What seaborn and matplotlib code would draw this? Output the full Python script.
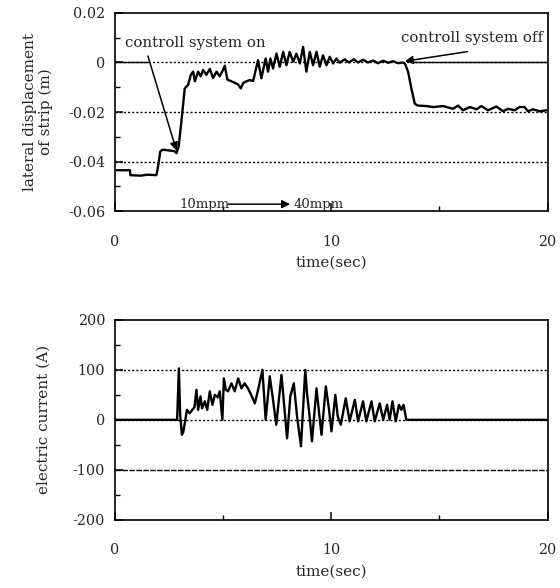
import matplotlib
matplotlib.use("Agg")
import matplotlib.pyplot as plt
import seaborn as sns
import pandas as pd

# lateral displacement of strip
time_disp = [0.1, 0.7, 0.72, 1.2, 1.5, 1.92, 2.0, 2.1, 2.2, 2.5, 2.75, 2.85, 2.95, 3.05, 3.16,
             3.23, 3.39, 3.51, 3.62, 3.7, 3.85, 3.97, 4.08, 4.23, 4.39, 4.54, 4.7, 4.85, 5.0,
             5.08, 5.2, 5.39, 5.54, 5.7, 5.82, 5.93, 6.08, 6.24, 6.39, 6.54, 6.62, 6.77, 6.97,
             7.08, 7.19, 7.31, 7.47, 7.62, 7.78, 7.93, 8.08, 8.24, 8.39, 8.55, 8.70, 8.85, 9.01,
             9.16, 9.32, 9.47, 9.62, 9.78, 9.93, 10.09, 10.24, 10.39, 10.62, 10.82, 11.04, 11.24,
             11.47, 11.70, 11.93, 12.16, 12.40, 12.63, 12.86, 13.09, 13.29, 13.40, 13.55, 13.70,
             13.86, 14.0, 14.4, 14.7, 15.17, 15.63, 15.86, 16.09, 16.4, 16.71, 16.94, 17.24,
             17.63, 17.94, 18.17, 18.47, 18.7, 18.93, 19.09, 19.32, 19.63, 19.94]
disp = [-0.0435, -0.0435, -0.0455, -0.0457, -0.0453, -0.0455, -0.042, -0.036, -0.0352, -0.0355,
        -0.0358, -0.0366, -0.034, -0.026, -0.0167, -0.0105, -0.009, -0.005, -0.0037, -0.0076,
        -0.0037, -0.0056, -0.003, -0.005, -0.0026, -0.0063, -0.0037, -0.0056, -0.003, -0.0013,
        -0.0069, -0.0076, -0.0082, -0.0089, -0.0105, -0.0083, -0.0076, -0.0071, -0.0075, -0.002,
        0.0009, -0.0064, 0.0016, -0.0037, 0.0016, -0.0024, 0.0036, -0.0017, 0.0043, -0.0011,
        0.0043, 0.0003, 0.0036, -0.0004, 0.0063, -0.0037, 0.0043, -0.0011, 0.0043, -0.0017,
        0.0029, -0.0011, 0.0023, -0.0004, 0.0016, -0.0001, 0.0013, 0.0, 0.0013, 0.0, 0.0011,
        0.0, 0.0008, -0.0003, 0.0007, -0.0001, 0.0005, -0.0003, 0.0, -0.0004, -0.0037, -0.0104,
        -0.0167, -0.0174, -0.0176, -0.018, -0.0176, -0.0187, -0.0174, -0.0193, -0.018, -0.0189,
        -0.0176, -0.0193, -0.0178, -0.0197, -0.0187, -0.0193, -0.018, -0.018, -0.0197, -0.0189,
        -0.0197, -0.0193]

# electric current
time_cur = [0.0, 2.88, 2.96, 3.02, 3.1, 3.16, 3.26, 3.33, 3.46, 3.58, 3.68, 3.77, 3.85, 3.96,
            4.03, 4.16, 4.27, 4.39, 4.51, 4.62, 4.75, 4.85, 4.97, 5.04, 5.13, 5.23, 5.39, 5.54,
            5.70, 5.85, 6.0, 6.15, 6.3, 6.47, 6.62, 6.82, 6.97, 7.16, 7.31, 7.46, 7.7, 7.96,
            8.11, 8.27, 8.42, 8.6, 8.8, 8.88, 9.0, 9.11, 9.32, 9.44, 9.55, 9.75, 9.9, 10.01,
            10.19, 10.3, 10.44, 10.67, 10.85, 11.09, 11.24, 11.47, 11.62, 11.86, 12.01, 12.24,
            12.4, 12.58, 12.7, 12.83, 12.98, 13.13, 13.24, 13.34, 13.47, 20.0]
current = [0, 0, 103, 10, -30, -25, 0, 20, 13, 20, 25, 60, 20, 47, 23, 37, 20, 57, 30, 50, 45,
           57, 0, 83, 60, 57, 73, 57, 83, 63, 73, 63, 50, 33, 60, 100, 0, 87, 40, -10, 90, -37,
           47, 73, 7, -53, 100, 53, 7, -43, 63, 13, -30, 67, 20, -23, 50, 7, -10, 43, -3, 40,
           -3, 37, -3, 37, -3, 33, 0, 30, 0, 37, -3, 30, 20, 30, 0, 0]

xticks = [0, 10, 20]
disp_ticks = [0.02, 0, -0.02, -0.04, -0.06]
disp_ticklabels = ["0.02", "0", "-0.02", "-0.04", "-0.06"]
cur_ticks = [200, 100, 0, -100, -200]
cur_ticklabels = ["200", "100", "0", "-100", "-200"]

sns.set_style("ticks")
plt.rcParams["font.family"] = ["DejaVu Serif"]
plt.rcParams["xtick.direction"] = "in"
plt.rcParams["ytick.direction"] = "in"

df_disp = pd.DataFrame({"t": time_disp, "d": disp})
df_cur = pd.DataFrame({"t": time_cur, "i": current})

fig = plt.figure(figsize=(5.6, 5.88), dpi=100)
ax1 = fig.add_axes([0.205, 0.641, 0.773, 0.337])
ax2 = fig.add_axes([0.205, 0.116, 0.773, 0.340])

def style_axis(ax):
    for s in ax.spines.values():
        s.set_linewidth(1.2)
        s.set_color("black")
    ax.tick_params(which="major", length=6, width=1.1, labelsize=10.3, color="black")
    ax.tick_params(which="minor", length=3.5, width=1.0, color="black")
    ax.set_xlim(0, 20)
    ax.set_xticks(xticks)
    ax.set_xticks([5, 15], minor=True)
    ax.tick_params(axis="x", pad=17)
    ax.tick_params(axis="y", pad=7)

lab_font = 11

# top: displacement
for yv in [0, -0.02, -0.04]:
    ax1.axhline(yv, color="black", lw=1.0, ls=(0, (1.5, 1.5)), zorder=1)
ax1.plot([0, 1.6], [0, 0], color="black", lw=1.0, zorder=1)
ax1.plot([13.8, 20], [0, 0], color="black", lw=1.0, zorder=1)
sns.lineplot(data=df_disp, x="t", y="d", ax=ax1, color="black", lw=1.7,
             estimator=None, sort=False)
ax1.set_ylim(-0.06, 0.02)
ax1.set_yticks(disp_ticks)
ax1.set_yticklabels(disp_ticklabels)
ax1.set_yticks([0.01, -0.01, -0.03, -0.05], minor=True)
style_axis(ax1)
ax1.set_xlabel("time(sec)", fontsize=lab_font, labelpad=5)
ax1.set_ylabel("lateral displacement\nof strip (m)", fontsize=lab_font, labelpad=11,
               linespacing=1.15)

ax1.text(3.7, 0.0078, "controll system on", fontsize=10.8, ha="center", va="center")
ax1.annotate("", xy=(2.85, -0.0356), xytext=(1.53, 0.0026),
             arrowprops=dict(arrowstyle="-|>", color="black", lw=1.1,
                             shrinkA=0, shrinkB=0, mutation_scale=12))
ax1.text(16.5, 0.0097, "controll system off", fontsize=10.8, ha="center", va="center")
ax1.annotate("", xy=(13.4, 0.0005), xytext=(16.3, 0.0044),
             arrowprops=dict(arrowstyle="-|>", color="black", lw=1.1,
                             shrinkA=0, shrinkB=0, mutation_scale=12))
ax1.text(3.0, -0.0574, "10mpm", fontsize=9.5, ha="left", va="center")
ax1.text(8.25, -0.0574, "40mpm", fontsize=9.5, ha="left", va="center")
ax1.annotate("", xy=(8.1, -0.0572), xytext=(5.25, -0.0572),
             arrowprops=dict(arrowstyle="-|>", color="black", lw=1.1,
                             shrinkA=0, shrinkB=0, mutation_scale=12))

# bottom: electric current
ax2.axhline(100, color="black", lw=1.0, ls=(0, (1.5, 1.5)), zorder=1)
ax2.axhline(0, color="black", lw=1.0, ls=(0, (1.5, 1.5)), zorder=1)
ax2.axhline(-100, color="black", lw=1.0, ls=(0, (4, 1)), zorder=1)
sns.lineplot(data=df_cur, x="t", y="i", ax=ax2, color="black", lw=1.7,
             estimator=None, sort=False)
ax2.set_ylim(-200, 200)
ax2.set_yticks(cur_ticks)
ax2.set_yticklabels(cur_ticklabels)
ax2.set_yticks([150, 50, -50, -150], minor=True)
style_axis(ax2)
ax2.set_xlabel("time(sec)", fontsize=lab_font, labelpad=5)
ax2.set_ylabel("electric current (A)", fontsize=lab_font, labelpad=16)

fig.savefig("out.png", dpi=100)
